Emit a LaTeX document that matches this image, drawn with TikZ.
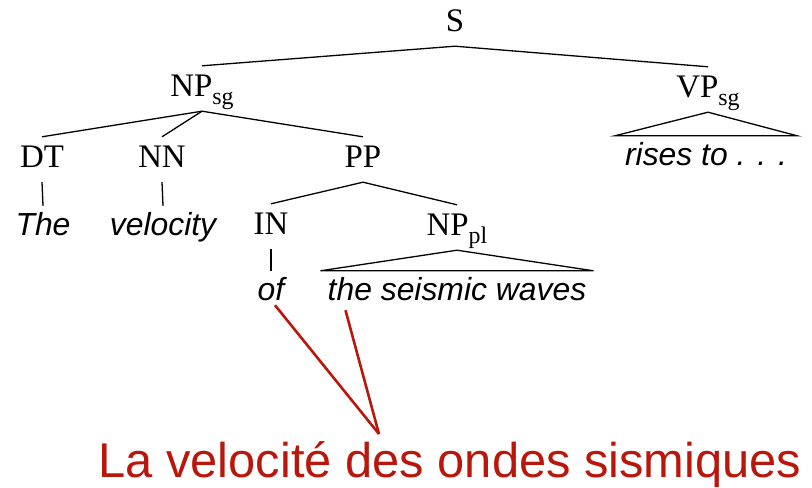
\documentclass[tikz,border=0pt]{standalone}
\usepackage{fontspec}
\setmainfont{Liberation Serif}
\newfontfamily\wordfont{Liberation Sans}
\newfontfamily\glossfont{Liberation Sans}
\definecolor{glossred}{RGB}{185,22,12}
\newcommand{\subcat}[1]{\raisebox{-8bp}{\fontsize{24}{24}\selectfont #1}}
\tikzset{
  cat/.style={anchor=base,inner sep=0pt,text height=31bp,text depth=14bp,font=\fontsize{33}{33}\selectfont},
  word/.style={anchor=base,inner sep=0pt,text height=30bp,text depth=8bp,font=\wordfont\itshape\fontsize{32}{32}\selectfont},
  branch/.style={line width=1.3bp},
  roof/.style={line width=1.3bp,line join=miter},
  link/.style={glossred,line width=2.6bp},
  gloss/.style={anchor=base,inner sep=0pt,text=glossred,font=\glossfont\fontsize{49}{49}\selectfont}
}
\begin{document}
\begin{tikzpicture}[x=1bp,y=-1bp]
\useasboundingbox (0,0) rectangle (812,488);
\node[cat] (S) at (455,32) {S};
\node[cat] (NPsg) at (202,97) {NP\subcat{sg}};
\node[cat] (VPsg) at (708,98) {VP\subcat{sg}};
\node[cat] (DT) at (42,168) {DT};
\node[cat] (NN) at (162,168) {NN};
\node[cat] (PP) at (363,168) {PP};
\node[cat] (IN) at (271,235) {IN};
\node[cat] (NPpl) at (457,236) {NP\subcat{pl}};
\node[word] (the) at (43,236) {The};
\node[word] (velocity) at (163,236) {velocity};
\node[word] (of) at (271,301) {of};
\node[word] (waves) at (457,301) {the seismic waves};
\node[word] (rises) at (706,166) {rises to . . .};
\node[gloss] (french) at (450,477) {La velocité des ondes sismiques};
\coordinate (meet) at (379,434);
\draw[branch] (NPsg.north) -- (S.south) -- (VPsg.north);
\draw[branch] (DT.north) -- (NPsg.south) -- (PP.north);
\draw[branch] (NPsg.south) -- (NN.north);
\draw[branch] (IN.north) -- (PP.south) -- (NPpl.north);
\draw[branch] (DT.south) -- (the.north);
\draw[branch] (NN.south) -- (velocity.north);
\draw[branch] (IN.south) -- (of.north);
\draw[roof] (NPpl.south) -- ([xshift=-7bp]waves.north west) -- ([xshift=7bp]waves.north east) -- cycle;
\draw[roof] (VPsg.south) -- ([xshift=-10bp]rises.north west) -- ([xshift=10bp]rises.north east) -- cycle;
\draw[link] ([xshift=4bp,yshift=4bp]of.south) -- (meet);
\draw[link] ([xshift=18bp,yshift=-1bp]waves.south west) -- (meet);
\end{tikzpicture}
\end{document}
